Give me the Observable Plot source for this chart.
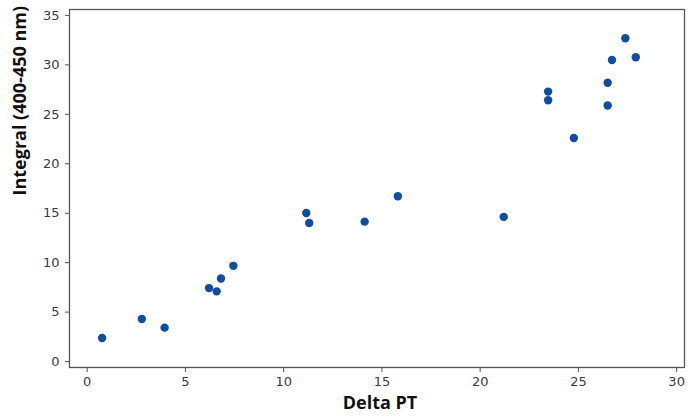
<!DOCTYPE html>
<html>
<head>
<meta charset="utf-8">
<script src="https://cdn.jsdelivr.net/npm/d3@7"></script>
<script src="https://cdn.jsdelivr.net/npm/@observablehq/plot@0.6"></script>
<style>
  body { margin: 0; background: #fff; }
</style>
</head>
<body>
<div id="chart"></div>
<script>
const deltaPT = [0.76, 2.78, 3.94, 6.2, 6.59, 6.81, 7.44, 11.15, 11.3, 14.12, 15.81, 21.2, 23.46, 23.46, 24.77, 26.49, 26.49, 26.71, 27.39, 27.92];
const integral = [2.39, 4.3, 3.43, 7.43, 7.1, 8.4, 9.68, 15.03, 14.02, 14.15, 16.71, 14.63, 27.3, 26.43, 22.6, 28.2, 25.9, 30.5, 32.7, 30.77];
const xTicks = [0, 5, 10, 15, 20, 25, 30];
const yTicks = [0, 5, 10, 15, 20, 25, 30, 35];
const xLabel = "Delta PT";
const yLabel = "Integral (400-450 nm)";

const data = deltaPT.map((x, i) => ({x, y: integral[i]}));

const chart = Plot.plot({
  width: 692,
  height: 420,
  marginLeft: 69,
  marginRight: 8,
  marginTop: 9,
  marginBottom: 53,
  style: {fontFamily: "DejaVu Sans", fontSize: "13px", color: "#444", background: "#fff"},
  x: {domain: [-0.9, 30.4]},
  y: {domain: [-0.6, 35.6]},
  marks: [
    Plot.frame({stroke: "#555", strokeWidth: 1.3}),
    Plot.axisX({ticks: xTicks, tickSize: 5, tickPadding: 4, label: null, stroke: "#555", fill: "#3c3c3c", fontSize: 13}),
    Plot.axisY({ticks: yTicks, tickSize: 4, tickPadding: 6, label: null, stroke: "#555", fill: "#3c3c3c", fontSize: 13}),
    Plot.dot(data, {x: "x", y: "y", r: 4.2, fill: "#114d9f", stroke: "none"}),
    Plot.text([xLabel], {frameAnchor: "bottom", text: d => d, dx: 3, dy: 36, lineAnchor: "middle",
      fontFamily: "Open Sans", fontWeight: "bold", fontSize: 18, fill: "#111"}),
    Plot.text([yLabel], {frameAnchor: "left", text: d => d, dx: -49, dy: 7, rotate: -90, lineAnchor: "middle",
      fontFamily: "Open Sans", fontWeight: "bold", fontSize: 18, fill: "#111"})
  ]
});
document.getElementById("chart").appendChild(chart);
</script>
</body>
</html>
